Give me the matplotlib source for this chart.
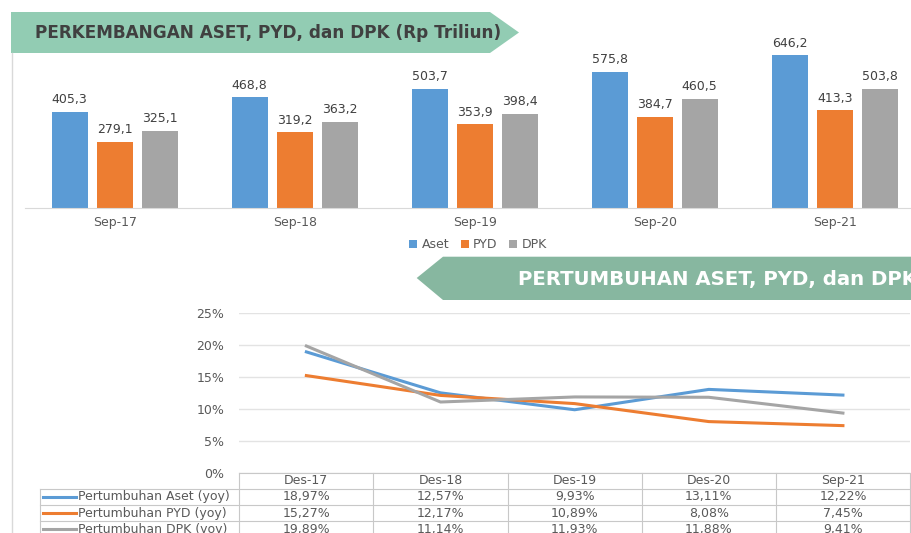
import matplotlib.pyplot as plt
from matplotlib.patches import Polygon, Rectangle
from matplotlib.lines import Line2D

# bar chart data (Rp Triliun)
periods = ['Sep-17', 'Sep-18', 'Sep-19', 'Sep-20', 'Sep-21']
aset = [405.3, 468.8, 503.7, 575.8, 646.2]
pyd = [279.1, 319.2, 353.9, 384.7, 413.3]
dpk = [325.1, 363.2, 398.4, 460.5, 503.8]
bar_names = ['Aset', 'PYD', 'DPK']

# growth data (% yoy)
growth_periods = ['Des-17', 'Des-18', 'Des-19', 'Des-20', 'Sep-21']
growth_aset = [18.97, 12.57, 9.93, 13.11, 12.22]
growth_pyd = [15.27, 12.17, 10.89, 8.08, 7.45]
growth_dpk = [19.89, 11.14, 11.93, 11.88, 9.41]
growth_names = ['Pertumbuhan Aset (yoy)', 'Pertumbuhan PYD (yoy)', 'Pertumbuhan DPK (yoy)']

BLUE, ORANGE, GRAY = '#5B9BD5', '#ED7D31', '#A5A5A5'
TXT = '#595959'
FS = 9
W, H = 912, 533


def fx(px):
    return px / W


def fy(py):
    return 1 - py / H


def fmt(v, nd):
    return f'{v:.{nd}f}'.replace('.', ',')


fig = plt.figure(figsize=(W / 100, H / 100), dpi=100)
plt.rcParams['font.family'] = 'DejaVu Sans'

# left border of the panel
fig.add_artist(Line2D([fx(11.7), fx(11.7)], [fy(53), fy(533)], color='#D9D9D9', lw=1))

# top banner
pts = [(11, 12), (490, 12), (519, 32.5), (490, 53), (11, 53)]
fig.patches.append(Polygon([(fx(a), fy(b)) for a, b in pts], closed=True,
                           transform=fig.transFigure, facecolor='#92CCB3', edgecolor='none'))
fig.text(fx(35), fy(32.5), 'PERKEMBANGAN ASET, PYD, dan DPK (Rp Triliun)',
         fontsize=12.2, fontweight='bold', color='#404040', va='center', ha='left')

# ---- bar chart ----
ax1 = fig.add_axes([fx(24.7), fy(207.7), 900 / W, 165.2 / H])
x = list(range(len(periods)))
colors = [BLUE, ORANGE, GRAY]
for k, (vals, c) in enumerate(zip([aset, pyd, dpk], colors)):
    bars = ax1.bar([i + (k - 1) * 0.25 for i in x], vals, 0.2, color=c)
    ax1.bar_label(bars, labels=[fmt(v, 1) for v in vals], padding=4,
                  fontsize=FS, color='#404040')
ax1.set_xlim(-0.5, 4.5)
ax1.set_ylim(0, 700)
ax1.set_xticks(x)
ax1.set_xticklabels(periods)
ax1.set_yticks([])
for s in ['top', 'left', 'right']:
    ax1.spines[s].set_visible(False)
ax1.spines['bottom'].set_color('#D9D9D9')
ax1.tick_params(axis='x', length=0, labelsize=FS, labelcolor=TXT, pad=6)

# legend for bars
leg_x = [409, 460.7, 509]
for name, c, lx in zip(bar_names, colors, leg_x):
    fig.patches.append(Rectangle((fx(lx), fy(247.5)), fx(8), 7 / H,
                                 transform=fig.transFigure, facecolor=c, edgecolor='none'))
    fig.text(fx(lx + 12.5), fy(244), name, fontsize=FS, color=TXT, va='center', ha='left')

# second banner
pts2 = [(416.7, 278), (443, 256.7), (912, 256.7), (912, 300), (443, 300)]
fig.patches.append(Polygon([(fx(a), fy(b)) for a, b in pts2], closed=True,
                           transform=fig.transFigure, facecolor='#87B7A0', edgecolor='none'))
fig.text(fx(518), fy(279), 'PERTUMBUHAN ASET, PYD, dan DPK',
         fontsize=14.2, fontweight='bold', color='white', va='center', ha='left')

# ---- line chart ----
left_px, right_px, zero_py = 239.3, 910, 473.3
ax2 = fig.add_axes([fx(left_px), fy(zero_py), (right_px - left_px) / W, 160 / H])
for vals, c in zip([growth_aset, growth_pyd, growth_dpk], colors):
    ax2.plot(x, vals, color=c, lw=2.2)
ax2.set_yticks([0, 5, 10, 15, 20, 25])
ax2.set_yticklabels([f'{t}%' for t in [0, 5, 10, 15, 20, 25]])
ax2.set_xticks([])
ax2.grid(axis='y', color='#E3E3E3', lw=1)
ax2.set_axisbelow(True)
for s in ax2.spines.values():
    s.set_visible(False)
ax2.tick_params(axis='y', length=0, labelsize=FS, labelcolor=TXT, pad=10.8)

# data table under the line chart
unit = (right_px - left_px) / 5


def xd(px):
    return -0.5 + (px - left_px) / unit


def ay(py):
    return (zero_py - py) / 160


tr = ax2.get_xaxis_transform()
border = '#C8C8C8'
x_left = xd(40)
for i in range(6):
    ax2.add_line(Line2D([i - 0.5, i - 0.5], [ay(473.3), ay(545)], transform=tr,
                        color=border, lw=0.8, clip_on=False))
ax2.add_line(Line2D([x_left, x_left], [ay(488.5), ay(545)], transform=tr,
                    color=border, lw=0.8, clip_on=False))
ax2.add_line(Line2D([-0.5, 4.5], [ay(473.3), ay(473.3)], transform=tr,
                    color=border, lw=0.8, clip_on=False))
for by in [488.5, 505, 521]:
    ax2.add_line(Line2D([x_left, 4.5], [ay(by), ay(by)], transform=tr,
                        color=border, lw=0.8, clip_on=False))

for i, p in enumerate(growth_periods):
    ax2.text(i, ay(480.9), p, transform=tr, ha='center', va='center',
             fontsize=FS, color=TXT, clip_on=False)

row_y = [496.7, 513, 529]
for name, vals, c, ry in zip(growth_names, [growth_aset, growth_pyd, growth_dpk], colors, row_y):
    ax2.add_line(Line2D([xd(43), xd(76)], [ay(ry), ay(ry)], transform=tr,
                        color=c, lw=2.2, clip_on=False))
    ax2.text(xd(78), ay(ry), name, transform=tr, ha='left', va='center',
             fontsize=FS, color=TXT, clip_on=False)
    for i, v in enumerate(vals):
        ax2.text(i, ay(ry), fmt(v, 2) + '%', transform=tr, ha='center', va='center',
                 fontsize=FS, color=TXT, clip_on=False)

ax2.set_xlim(-0.5, 4.5)
ax2.set_ylim(0, 25)

fig.savefig('out.png', dpi=100)
